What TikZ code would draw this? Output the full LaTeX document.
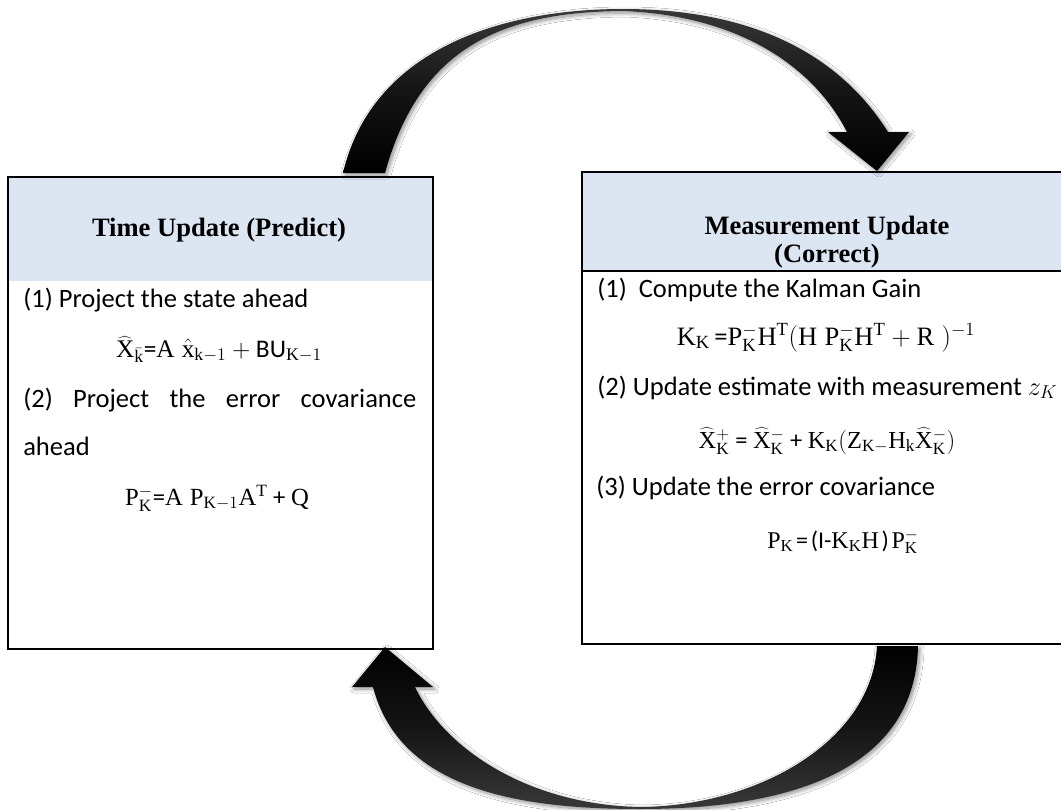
\documentclass[tikz,border=0pt]{standalone}
\usepackage{fix-cm}
\usepackage{fontspec}
\setmainfont{Carlito}
\newfontfamily\titlefont{Liberation Serif}
\setmathrm{Liberation Serif}
\usetikzlibrary{shadows.blur}
\definecolor{headblue}{RGB}{220,230,242}
\tikzset{
  panel/.style={draw=black, line width=1.5pt, anchor=north west, inner sep=0pt},
  headfill/.style={fill=headblue},
  titletext/.style={font=\titlefont\bfseries\fontsize{19.9pt}{21pt}\selectfont, inner sep=0pt, anchor=base},
  bodytext/.style={font=\fontsize{19.9pt}{24pt}\selectfont, inner sep=0pt, anchor=base west},
  eqtext/.style={font=\fontsize{#1}{24pt}\selectfont, inner sep=0pt, anchor=base},
  eqtext/.default=19.9pt,
  cyclearrow/.style={blur shadow={shadow xshift=1.5pt, shadow yshift=-1.5pt, shadow blur radius=3pt, shadow opacity=45, shadow blur steps=8}},
}
\begin{document}
\begin{tikzpicture}[x=0.75pt, y=-0.75pt]
\useasboundingbox (0,0) rectangle (1061,810);
\clip (0,0) rectangle (1061,810);
\fill[white] (0,0) rectangle (1061,810);
% header fills
\fill[headfill] (7,176) rectangle (432,281);
\fill[headfill] (581,171) rectangle (1073,271);
% panels
\node[panel, minimum width=318.75pt, minimum height=354pt] (tu) at (7,176) {};
\node[panel, minimum width=369pt, minimum height=354pt] (mu) at (581,171) {};
\draw[line width=1.5pt] (mu.north west |- 0,271) coordinate (muhl) -- (mu.north east |- 0,271) coordinate (muhr);
% top cycle arrow (predict -> correct)
\path[cyclearrow, top color=black!78, bottom color=black, middle color=black!92]
  (343,173) .. controls (372,50) and (500,9) .. (623,9)
  .. controls (730,9) and (830,40) .. (888,132)
  -- (909,132) -- (877,171) -- (828,132) -- (847,132)
  .. controls (810,60) and (730,15) .. (623,11)
  .. controls (505,12) and (420,45) .. (385,173) -- cycle;
% bottom cycle arrow (correct -> predict)
\path[cyclearrow, top color=black, bottom color=black!78, middle color=black!92]
  (918,646) .. controls (915,780) and (770,809) .. (640,809)
  .. controls (520,809) and (400,790) .. (373,687)
  -- (352,687) -- (385,647) -- (433,687) -- (415,687)
  .. controls (445,750) and (530,805) .. (640,807)
  .. controls (760,806) and (872,740) .. (877,646) -- cycle;
% left panel text
\node[titletext] (tut) at (219,236) {Time Update (Predict)};
\node[bodytext] (tu1) at (23,307) {(1) Project the state ahead};
\node[eqtext=19pt] (tue1) at (219,357) {$\widehat{\mathrm{X}}_{\bar{\mathrm{k}}}$=$\mathrm{A}\;\hat{\mathrm{x}}_{\mathrm{k}-1}+{}$BU$_{\mathrm{K}-1}$};
\node[bodytext] (tu2) at (23,407) {\makebox[294.75pt][s]{(2) Project the error covariance}};
\node[bodytext] (tu3) at (23,455) {ahead};
\node[eqtext=18.5pt] (tue2) at (217,505) {$\mathrm{P}_{\mathrm{K}}^{-}$=$\mathrm{A}\;\mathrm{P}_{\mathrm{K}-1}\mathrm{A}^{\mathrm{T}}$ + $\mathrm{Q}$};
% right panel text
\node[titletext] (mut1) at (827,234) {Measurement Update};
\node[titletext] (mut2) at (827,262) {(Correct)};
\node[bodytext] (mu1) at (597,297) {(1)\ \ Compute the Kalman Gain};
\node[eqtext] (mue1) at (826,345) {$\mathrm{K}_{\mathrm{K}}$\,=$\mathrm{P}_{\mathrm{K}}^{-}\mathrm{H}^{\mathrm{T}}(\mathrm{H}\;\mathrm{P}_{\mathrm{K}}^{-}\mathrm{H}^{\mathrm{T}}+\mathrm{R}\;)^{-1}$};
\node[bodytext] (mu2) at (597,395) {(2) Update estimate with measurement $z_K$};
\node[eqtext=18.3pt] (mue2) at (827,448) {$\widehat{\mathrm{X}}_{\mathrm{K}}^{+}$ = $\widehat{\mathrm{X}}_{\mathrm{K}}^{-}$ + $\mathrm{K}_{\mathrm{K}}(\mathrm{Z}_{\mathrm{K}-}\mathrm{H}_{\mathrm{k}}\widehat{\mathrm{X}}_{\mathrm{K}}^{-})$};
\node[bodytext] (mu3) at (596,495) {(3) Update the error covariance};
\node[eqtext=18pt] (mue3) at (843,548) {$\mathrm{P}_{\mathrm{K}}$\hspace{2pt}=\hspace{2pt}(I-$\mathrm{K}_{\mathrm{K}}\mathrm{H}$\hspace{2pt})\hspace{2pt}$\mathrm{P}_{\mathrm{K}}^{-}$};
\end{tikzpicture}
\end{document}
